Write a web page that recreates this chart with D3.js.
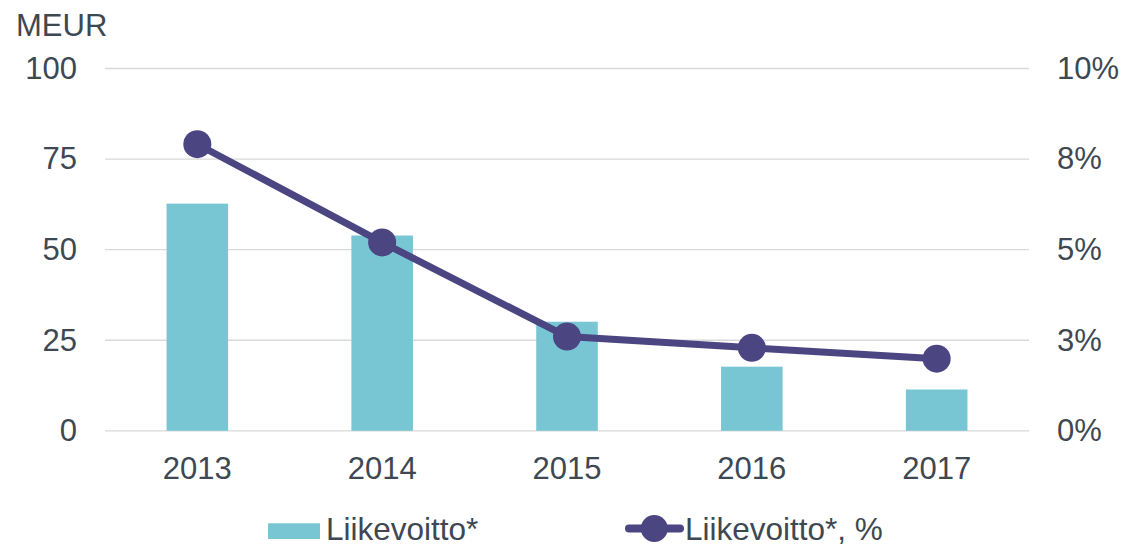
<!DOCTYPE html>
<html><head><meta charset="utf-8">
<script src="https://cdn.jsdelivr.net/npm/d3@7"></script>
<style>body{margin:0;background:#fff;} text{font-family:"Liberation Sans",Arial,sans-serif;fill:#3E4852;}</style>
</head><body>
<svg id="c" width="1144" height="544"></svg>
<script>
const categories = ["2013","2014","2015","2016","2017"];
const operatingProfit = [62.7, 53.9, 30.1, 17.7, 11.4];
const operatingMarginPct = [7.91, 5.20, 2.60, 2.29, 1.99];
const leftTicks = [0, 25, 50, 75, 100];
const rightTicks = [0, 2.5, 5, 7.5, 10];
const legendLabels = ["Liikevoitto*", "Liikevoitto*, %"];
const unitLabel = "MEUR";

(function () {
const svg = d3.select("#c");
const pL = 105, pR = 1029, pT = 68.5, pB = 430.8;
const barColor = "#78C5D3", lineColor = "#4B4582", gridColor = "#D9D9D9";
const fs = 31;

const x = d3.scaleBand().domain(categories).range([pL, pR]).paddingInner(0.667).paddingOuter(0.333);
const y = d3.scaleLinear().domain([0, 100]).range([pB, pT]);
const y2 = d3.scaleLinear().domain([0, 10]).range([pB, pT]);

svg.append("g").selectAll("line").data(leftTicks).join("line")
  .attr("x1", pL).attr("x2", pR)
  .attr("y1", d => y(d)).attr("y2", d => y(d))
  .attr("stroke", gridColor).attr("stroke-width", 1.3);

function styleAxis(g) {
  g.select(".domain").remove();
  g.selectAll("text").style("font-size", fs + "px").attr("fill", "#3E4852")
    .attr("font-family", "Liberation Sans, Arial, sans-serif");
}

svg.append("g").attr("transform", `translate(${pL},0)`)
  .call(d3.axisLeft(y).tickValues(leftTicks).tickSize(0).tickPadding(28)).call(styleAxis);

svg.append("g").attr("transform", `translate(${pR},0)`)
  .call(d3.axisRight(y2).tickValues(rightTicks).tickSize(0).tickPadding(28).tickFormat(d => Math.round(d) + "%"))
  .call(styleAxis);

svg.append("g").attr("transform", `translate(0,${pB})`)
  .call(d3.axisBottom(x).tickSize(0).tickPadding(26)).call(styleAxis);

svg.append("text").attr("x", 16).attr("y", 36).style("font-size", fs + "px").text(unitLabel);

svg.append("g").selectAll("rect").data(operatingProfit).join("rect")
  .attr("x", (d, i) => x(categories[i]))
  .attr("width", x.bandwidth())
  .attr("y", d => y(d))
  .attr("height", d => pB - y(d))
  .attr("fill", barColor);

const line = d3.line().x((d, i) => x(categories[i]) + x.bandwidth() / 2).y(d => y2(d));
svg.append("path").datum(operatingMarginPct).attr("d", line)
  .attr("fill", "none").attr("stroke", lineColor).attr("stroke-width", 7).attr("stroke-linejoin", "round");
svg.append("g").selectAll("circle").data(operatingMarginPct).join("circle")
  .attr("cx", (d, i) => x(categories[i]) + x.bandwidth() / 2)
  .attr("cy", d => y2(d)).attr("r", 14).attr("fill", lineColor);

const lfs = 31.5;
const lg = svg.append("g");
lg.append("rect").attr("x", 268).attr("y", 523.3).attr("width", 52).attr("height", 15.7).attr("fill", barColor);
lg.append("text").attr("x", 326).attr("y", 540).style("font-size", lfs + "px").text(legendLabels[0]);
lg.append("line").attr("x1", 629).attr("x2", 680).attr("y1", 528.5).attr("y2", 528.5)
  .attr("stroke", lineColor).attr("stroke-width", 8).attr("stroke-linecap", "round");
lg.append("circle").attr("cx", 654.3).attr("cy", 528.5).attr("r", 13.5).attr("fill", lineColor);
lg.append("text").attr("x", 685).attr("y", 540).style("font-size", lfs + "px").text(legendLabels[1]);
})();
</script>
</body></html>
